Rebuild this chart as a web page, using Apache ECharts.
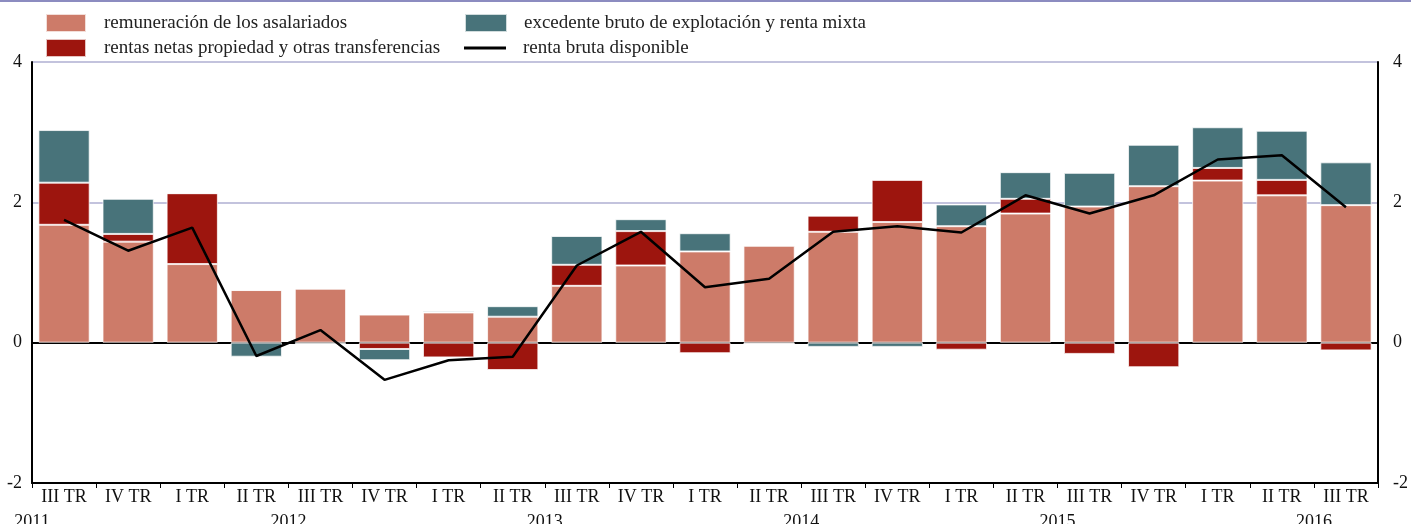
<!DOCTYPE html>
<html>
<head>
<meta charset="utf-8">
<script src="https://cdn.jsdelivr.net/npm/echarts@6/dist/echarts.min.js"></script>
<style>html,body{margin:0;padding:0;background:#fff}#c{width:1411px;height:524px}</style>
</head>
<body>
<div id="c"></div>
<script>
const categories = ["III TR","IV TR","I TR","II TR","III TR","IV TR","I TR","II TR","III TR","IV TR","I TR","II TR","III TR","IV TR","I TR","II TR","III TR","IV TR","I TR","II TR","III TR"];
const remuneracion = [1.68,1.44,1.12,0.75,0.77,0.40,0.43,0.37,0.81,1.10,1.30,1.38,1.58,1.72,1.66,1.84,1.94,2.23,2.31,2.10,1.96];
const rentas = [0.60,0.11,1.01,0,0,-0.09,-0.21,-0.39,0.30,0.49,-0.15,-0.02,0.23,0.60,-0.10,0.21,-0.16,-0.35,0.18,0.22,-0.11];
const excedente = [0.75,0.50,0,-0.20,-0.02,-0.16,0.02,0.15,0.41,0.17,0.26,0,-0.06,-0.06,0.31,0.38,0.48,0.59,0.58,0.70,0.61];
const rentaBruta = [1.75,1.31,1.64,-0.19,0.18,-0.53,-0.25,-0.20,1.10,1.58,0.79,0.91,1.58,1.66,1.57,2.10,1.84,2.10,2.61,2.67,1.93];
const years = ["2011","2012","2013","2014","2015","2016"];
const yearFirstQuarterIndex = [-2,2,6,10,14,18];

const FONT = "Liberation Serif";
const C_REM = "#CD7B69", C_REN = "#9D150E", C_EXC = "#48737A";
const names = ["remuneración de los asalariados","rentas netas propiedad y otras transferencias","excedente bruto de explotación y renta mixta","renta bruta disponible"];

const chart = echarts.init(document.getElementById('c'));
const barBase = {type:'bar', stack:'tot', barCategoryGap:'20%',
  itemStyle:{borderColor:'rgba(255,255,255,0.75)', borderWidth:1}, emphasis:{disabled:true}};
function legendText(pad){ return {fontFamily:FONT, fontSize:19, color:'#222', padding:[0,0,0,pad], lineHeight:20}; }
function legend(name, left, top, extra){
  return Object.assign({data:[name], left:left, top:top, orient:'horizontal', itemWidth:40, itemHeight:18,
    selectedMode:false, icon:'rect', padding:0, textStyle:legendText(13)}, extra||{});
}
chart.setOption({
  animation:false,
  grid:{left:32, right:27, top:62, bottom:41, containLabel:false},
  legend:[
    legend(names[0],45,13),
    legend(names[1],45,38),
    legend(names[2],464,13,{itemWidth:42, textStyle:legendText(12)}),
    legend(names[3],464,38,{itemWidth:42, itemHeight:3, textStyle:legendText(12)})
  ],
  xAxis:{type:'category', data:categories,
    axisLine:{onZero:false, lineStyle:{color:'#000', width:2}},
    axisTick:{show:true, alignWithLabel:false, length:5, lineStyle:{color:'#000', width:1}},
    axisLabel:{fontFamily:FONT, fontSize:18, color:'#111', margin:5, interval:0},
    splitLine:{show:false}},
  yAxis:[
    {type:'value', min:-2, max:4, interval:2, position:'left',
     axisLine:{show:true, lineStyle:{color:'#000', width:2}}, axisTick:{show:false},
     axisLabel:{fontFamily:FONT, fontSize:18, color:'#111', margin:10},
     splitLine:{show:true, lineStyle:{color:['#000','#000','#c3c3dd','#c3c3dd'], width:2}}},
    {type:'value', min:-2, max:4, interval:2, position:'right',
     axisLine:{show:true, lineStyle:{color:'#000', width:2}}, axisTick:{show:false},
     axisLabel:{fontFamily:FONT, fontSize:18, color:'#111', margin:15},
     splitLine:{show:false}}
  ],
  series:[
    Object.assign({}, barBase, {name:names[0], data:remuneracion, itemStyle:Object.assign({}, barBase.itemStyle, {color:C_REM})}),
    Object.assign({}, barBase, {name:names[1], data:rentas, itemStyle:Object.assign({}, barBase.itemStyle, {color:C_REN})}),
    Object.assign({}, barBase, {name:names[2], data:excedente, itemStyle:Object.assign({}, barBase.itemStyle, {color:C_EXC})}),
    {type:'line', name:names[3], data:rentaBruta, symbol:'none', z:5,
     lineStyle:{color:'#000', width:2.5}, itemStyle:{color:'#000'}, emphasis:{disabled:true}}
  ]
});

const x0 = chart.convertToPixel({xAxisIndex:0}, 0);
const step = chart.convertToPixel({xAxisIndex:0}, 1) - x0;
const yBottom = chart.convertToPixel({yAxisIndex:0}, -2);
const graphics = [{type:'rect', shape:{x:0,y:0,width:1411,height:2}, style:{fill:'#8c8cc0'}, silent:true}];
years.forEach((y,i)=>{
  graphics.push({type:'text', x:x0 + (yearFirstQuarterIndex[i]+1.5)*step, y:yBottom+30, silent:true,
    style:{text:y, fontFamily:FONT, fontSize:18, fill:'#111', align:'center', verticalAlign:'top'}});
});
chart.setOption({graphic:graphics});
</script>
</body>
</html>
